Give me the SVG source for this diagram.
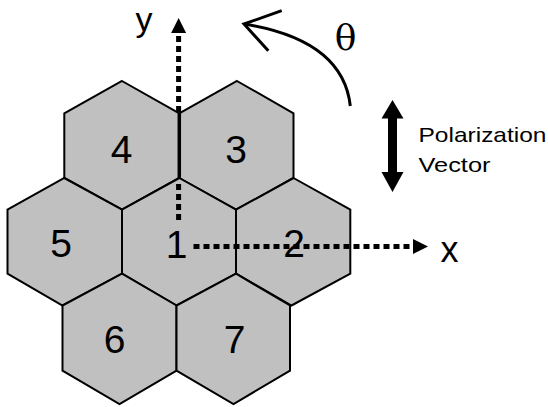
<svg xmlns="http://www.w3.org/2000/svg" width="548" height="407" viewBox="0 0 548 407">
  <style>
    .cell { fill: #c0c0c0; stroke: #000; stroke-width: 2; stroke-linejoin: miter; }
    .num { font-family: "Liberation Sans", Arial, sans-serif; font-size: 39px; fill: #000; text-anchor: middle; }
    .axis-label { font-family: "Liberation Sans", Arial, sans-serif; fill: #000; text-anchor: middle; }
    .axis { fill: none; stroke: #000; stroke-width: 5; stroke-dasharray: 6 4; }
    .label { font-family: "Liberation Sans", Arial, sans-serif; font-size: 21px; fill: #000; }
  </style>
  <defs>
    <marker id="axisHead" markerUnits="userSpaceOnUse" markerWidth="16" markerHeight="16" viewBox="0 0 16 16" refX="0" refY="7.5" orient="auto">
      <path d="M0,0 L15,7.5 L0,15 z" fill="#000"/>
    </marker>
  </defs>
  <rect width="548" height="407" fill="#fff"/>

  <!-- hexagonal cells -->
  <g id="cell-4">
    <polygon class="cell" points="122,81 179.3,113.3 179.3,178 122,209.7 64.3,178 64.3,113.3"/>
    <text class="num" x="121.5" y="162.5">4</text>
  </g>
  <g id="cell-3">
    <polygon class="cell" points="237,81 293.5,113.3 293.5,178 236,209.7 179.3,178 179.3,113.3"/>
    <text class="num" x="236" y="162.5">3</text>
  </g>
  <g id="cell-5">
    <polygon class="cell" points="64.3,178 122,209.7 122,273.7 62.5,305.5 7.5,273.7 7.5,209.7"/>
    <text class="num" x="61" y="257.3">5</text>
  </g>
  <g id="cell-1">
    <polygon class="cell" points="179.3,178 236,209.7 236,273.7 176.5,305.5 122,273.7 122,209.7"/>
    <text class="num" x="176.5" y="258">1</text>
  </g>
  <g id="cell-2">
    <polygon class="cell" points="293.5,178 350.3,209.7 350.3,273.7 291.5,305.5 236,273.7 236,209.7"/>
    <text class="num" x="294" y="256.8">2</text>
  </g>
  <g id="cell-6">
    <polygon class="cell" points="122,273.7 176.5,305.5 176.5,370.7 119.5,404 62.5,370.7 62.5,305.5"/>
    <text class="num" x="114.5" y="353.3">6</text>
  </g>
  <g id="cell-7">
    <polygon class="cell" points="236,273.7 290,305.5 290,370.7 233.5,404 176.5,370.7 176.5,305.5"/>
    <text class="num" x="234.5" y="353.3">7</text>
  </g>

  <!-- axes and rotation / polarization arrows -->
  <g id="connectors">
    <g id="y-axis">
      <path class="axis" d="M178.6,220 V180"/>
      <line x1="179.3" y1="113.3" x2="179.3" y2="178" stroke="#000" stroke-width="3.5"/>
      <path class="axis" d="M178.6,112 V33" marker-end="url(#axisHead)"/>
    </g>
    <path id="x-axis" class="axis" d="M193.5,246.5 H413" marker-end="url(#axisHead)"/>
    <g id="rotation-arrow" fill="none" stroke="#000" stroke-width="3">
      <path d="M350.3,106 Q343,40 244,24"/>
      <polyline points="281.7,10.7 244,24 268.3,50.7" stroke-linejoin="miter"/>
    </g>
    <polygon id="polarization-arrow" fill="#000" points="392.5,100 403.5,118.5 397,118.5 397,172 403.5,172 392.5,192 381.5,172 388,172 388,118.5 381.5,118.5"/>
  </g>

  <!-- labels -->
  <g id="labels">
    <text class="axis-label" x="144" y="31" font-size="34">y</text>
    <text class="axis-label" x="449.5" y="261.7" font-size="36">x</text>
    <text x="345.5" y="49.5" font-family="'DejaVu Serif', 'Liberation Serif', serif" font-size="36" text-anchor="middle">θ</text>
    <text class="label" x="418.5" y="141.7" textLength="128" lengthAdjust="spacingAndGlyphs">Polarization</text>
    <text class="label" x="418.5" y="171.7" textLength="72" lengthAdjust="spacingAndGlyphs">Vector</text>
  </g>
</svg>
